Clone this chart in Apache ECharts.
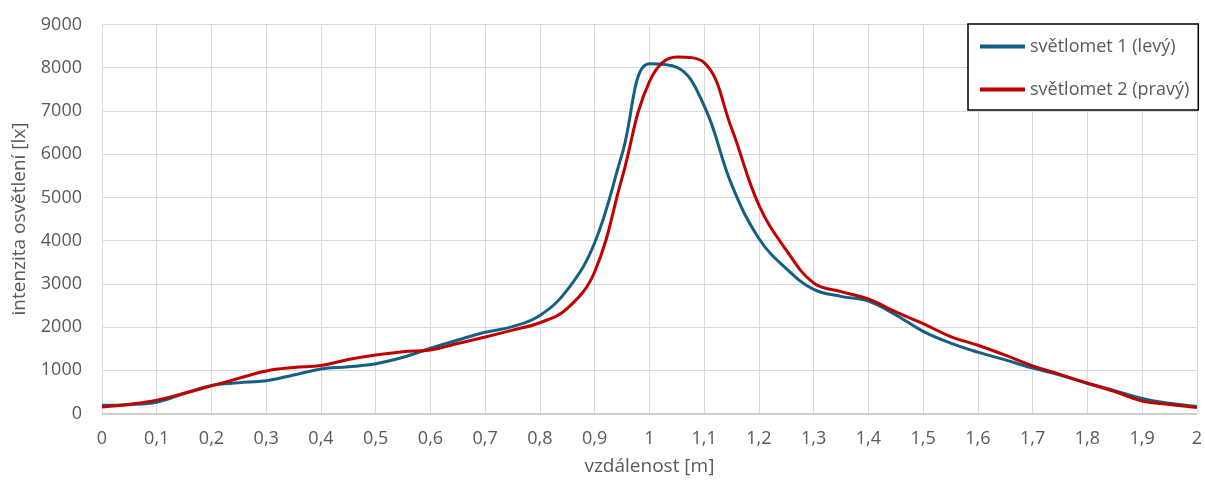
<!DOCTYPE html>
<html>
<head>
<meta charset="utf-8">
<script src="https://cdn.jsdelivr.net/npm/echarts@6/dist/echarts.min.js"></script>
<style>
html,body{margin:0;padding:0;background:#fff;}
#main{width:1205px;height:484px;}
</style>
</head>
<body>
<div id="main"></div>
<script>
// vzdálenost [m], odečteno po 0,05 m
var vzdalenost = [0, 0.05, 0.1, 0.15, 0.2, 0.25, 0.3, 0.35, 0.4, 0.45, 0.5, 0.55, 0.6, 0.65, 0.7, 0.75, 0.8, 0.85, 0.9, 0.95,
    1, 1.05, 1.1, 1.15, 1.2, 1.25, 1.3, 1.35, 1.4, 1.45, 1.5, 1.55, 1.6, 1.65, 1.7, 1.75, 1.8, 1.85, 1.9, 1.95, 2]
// světlomet 1 (levý)
var levy = [190, 205, 260, 460, 650, 710, 760, 890, 1030, 1080, 1150, 1300, 1510, 1700, 1880, 2010, 2270, 2860, 3950, 6000,
    8090, 8010, 7120, 5300, 4050, 3350, 2870, 2710, 2600, 2280, 1900, 1630, 1420, 1240, 1050, 890, 700, 530, 350, 235, 160]
// světlomet 2 (pravý)
var pravy = [150, 215, 310, 467, 640, 814, 985, 1065, 1110, 1250, 1355, 1430, 1470, 1620, 1770, 1930, 2100, 2430, 3280, 5450,
    7680, 8250, 8120, 6600, 4820, 3780, 3020, 2820, 2650, 2350, 2080, 1780, 1580, 1350, 1100, 905, 700, 505, 290, 210, 140]
var nazvy = ['světlomet 1 (levý)', 'světlomet 2 (pravý)']
var barvy = ['#156082', '#C00000']

function pary(ys){
    var out = []
    for(var i=0;i<vzdalenost.length;i++){
        out.push([vzdalenost[i], ys[i]])
    }
    return out
}

var font = 'Open Sans'
var seda = '#595959'

var myChart = echarts.init(document.getElementById('main'));
var option = {
    animation: false,
    color: barvy,
    grid: {
        left: 102,
        right: 7,
        top: 24.5,
        bottom: 70.5
    },
    legend: {
        orient: 'vertical',
        left: 968,
        top: 24,
        backgroundColor: '#fff',
        borderColor: '#000',
        borderWidth: 1.5,
        borderRadius: 0,
        padding: [12, 9, 10, 12],
        icon: 'rect',
        itemWidth: 45,
        itemHeight: 4,
        itemGap: 22,
        textStyle: {
            fontFamily: font,
            fontSize: 18,
            color: seda,
            lineHeight: 21
        },
        data: nazvy
    },
    xAxis: {
        type: 'value',
        min: 0,
        max: 2,
        interval: 0.1,
        name: 'vzdálenost [m]',
        nameLocation: 'middle',
        nameGap: 44,
        nameTextStyle: {
            fontFamily: font,
            fontSize: 19,
            color: seda
        },
        axisLine: {
            show: true,
            lineStyle: { color: '#c6c6c6', width: 1.5 }
        },
        axisTick: { show: false },
        splitLine: {
            show: true,
            lineStyle: { color: '#d9d9d9', width: 1 }
        },
        axisLabel: {
            margin: 16,
            fontFamily: font,
            fontSize: 18,
            color: seda,
            formatter: function(v){
                return (Math.round(v*10)/10).toString().replace('.', ',')
            }
        }
    },
    yAxis: {
        type: 'value',
        min: 0,
        max: 9000,
        interval: 1000,
        name: 'intenzita osvětlení [lx]',
        nameLocation: 'middle',
        nameGap: 73,
        nameTextStyle: {
            fontFamily: font,
            fontSize: 19,
            color: seda
        },
        axisLine: { show: false },
        axisTick: { show: false },
        splitLine: {
            show: true,
            lineStyle: { color: '#d9d9d9', width: 1 }
        },
        axisLabel: {
            margin: 20,
            fontFamily: font,
            fontSize: 18,
            color: seda,
            formatter: function(v){
                return String(v)
            }
        }
    },
    series: [
        {
            name: nazvy[0],
            type: 'line',
            smooth: 0.4,
            showSymbol: false,
            lineStyle: { width: 3, color: barvy[0] },
            data: pary(levy)
        },
        {
            name: nazvy[1],
            type: 'line',
            smooth: 0.4,
            showSymbol: false,
            lineStyle: { width: 3, color: barvy[1] },
            data: pary(pravy)
        }
    ]
};
myChart.setOption(option);
</script>
</body>
</html>
